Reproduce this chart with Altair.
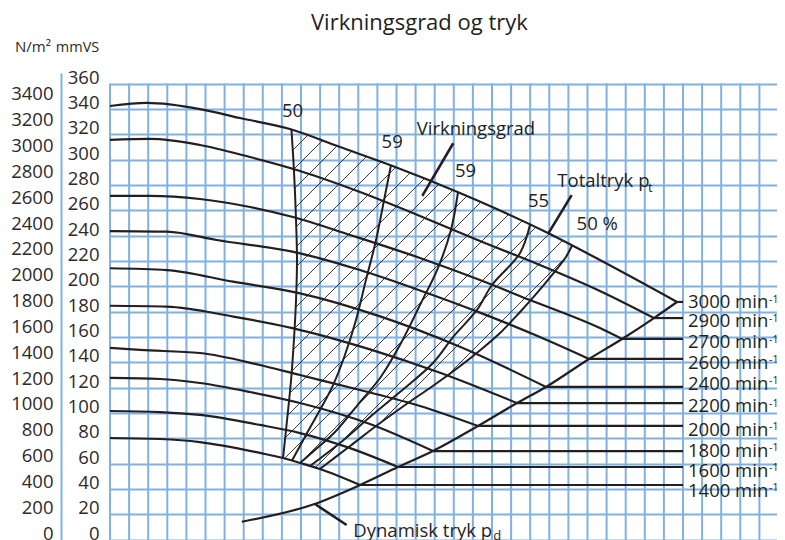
import altair as alt
import pandas as pd

# ---------------- values ----------------
# x = flow in grid-cell units from the left edge, y = pressure in mmVS
SPEEDS = [3000, 2900, 2700, 2600, 2400, 2200, 2000, 1800, 1600, 1400]

X_3000 = [0, 1.94, 4.71, 6.81, 9.42, 12.04, 14.66, 18.32, 22.93, 25.65, 29.69]
Y_3000 = [337.1, 339.5, 334.7, 327.6, 318.9, 304.7, 290.5, 268.4, 236.8, 215.5, 182.4]
X_2900 = [0, 2.09, 4.71, 7.33, 9.95, 13.09, 16.23, 19.37, 22.51, 25.65, 28.48]
Y_2900 = [310.3, 311.1, 306.3, 296.8, 285.8, 269.2, 250.3, 230.5, 211.6, 191.1, 169.7]
X_2700 = [0, 2.09, 4.71, 7.33, 9.58, 12.57, 16.23, 19.37, 21.99, 25.65, 26.81]
Y_2700 = [266.1, 266.1, 263.7, 257.4, 249.5, 235.3, 217.1, 199.7, 183.9, 161.8, 153.2]
X_2600 = [0, 2.97, 5.59, 9.95, 13.09, 16.23, 19.37, 22.51, 25.08]
Y_2600 = [238.4, 237.9, 231.3, 220.8, 207.6, 191.5, 174.0, 154.7, 137.4]
X_2400 = [0, 2.97, 6.44, 9.95, 14.14, 18.32, 22.83]
Y_2400 = [209.0, 207.6, 198.4, 189.2, 171.0, 147.0, 115.3]
X_2200 = [0, 2.97, 6.46, 9.60, 13.61, 17.28, 21.31]
Y_2200 = [179.4, 178.7, 170.8, 161.6, 145.0, 126.5, 102.6]
X_2000 = [0, 1.57, 4.71, 7.85, 9.95, 13.09, 16.23, 19.27]
Y_2000 = [146.1, 144.5, 142.1, 132.6, 124.7, 112.9, 100.3, 84.5]
X_1800 = [0, 2.62, 4.71, 7.33, 9.95, 13.61, 16.91]
Y_1800 = [122.4, 121.6, 118.4, 111.3, 102.6, 86.0, 64.7]
X_1600 = [0, 2.62, 4.71, 7.85, 9.95, 12.57, 15.08]
Y_1600 = [96.3, 95.5, 93.2, 85.3, 78.9, 67.0, 52.1]
X_1400 = [0, 2.62, 4.71, 7.85, 9.06, 9.95, 10.99, 13.09]
Y_1400 = [75.0, 74.2, 71.8, 63.2, 59.2, 55.3, 50.5, 37.9]

# dynamic pressure curve
X_PD = [6.90, 10.63, 13.09, 15.08, 16.91, 19.27, 21.31, 22.83, 25.08, 26.81, 28.48, 29.69]
Y_PD = [8.9, 22.5, 37.9, 52.1, 64.7, 84.5, 102.6, 115.3, 137.4, 153.2, 169.7, 182.4]

# iso-efficiency lines (top -> bottom)
E50L_X = [9.50, 9.63, 9.74, 9.79, 9.74, 9.63, 9.48, 9.27, 9.06]
E50L_Y = [318.5, 286.6, 247.1, 215.5, 183.9, 152.4, 120.8, 89.2, 59.2]
E59A_X = [14.71, 14.35, 13.93, 13.40, 12.88, 12.30, 11.68, 10.99, 10.26, 9.53]
E59A_Y = [290.2, 262.9, 231.3, 199.7, 168.2, 140.5, 116.8, 97.1, 77.4, 57.2]
E59B_X = [18.22, 17.85, 17.17, 16.28, 15.18, 14.14, 13.09, 11.78, 10.73, 9.95]
E59B_Y = [269.0, 239.2, 209.2, 181.6, 148.4, 122.4, 103.4, 79.7, 65.5, 55.3]
E55_X = [21.99, 21.47, 20.00, 19.21, 17.96, 16.91, 15.18, 13.61, 12.04, 10.47]
E55_Y = [243.3, 221.1, 195.8, 176.1, 154.7, 134.2, 111.3, 91.6, 71.1, 52.9]
E50R_X = [24.19, 23.87, 23.19, 22.36, 21.47, 20.42, 19.27, 18.06, 16.75, 15.45, 14.14, 12.57, 10.99]
E50R_Y = [227.0, 217.9, 204.5, 189.5, 174.5, 157.9, 142.9, 128.7, 114.5, 101.1, 86.8, 68.7, 50.5]

# speed labels on the right
LABEL_END_X = 30
LABEL_Y = [177.4, 162.4, 145.8, 129.5, 112.9, 95.3, 76.8, 60.2, 44.4, 28.7]

# annotations
NOTE_TEXT = ["50", "59", "59", "55", "50 %", "Virkningsgrad", "Totaltryk p", "Dynamisk tryk p"]
NOTE_X = [9.0, 14.22, 18.06, 21.88, 24.43, 16.06, 23.42, 12.74]
NOTE_Y = [328.7, 303.7, 280.8, 257.6, 239.2, 314.2, 273.4, -2.9]
SUB_TEXT = ["t", "d"]
SUB_X = [28.17, 20.07]
SUB_Y = [269.2, -5.5]
LEAD_X1 = [17.97, 24.17, 10.73]
LEAD_Y1 = [307.7, 266.8, 22.9]
LEAD_X2 = [16.35, 22.95, 12.39]
LEAD_Y2 = [266.1, 236.6, 6.3]
TITLE = "Virkningsgrad og tryk"
TITLE_X, TITLE_Y = 16.2, 397.1

MMVS_TICKS = list(range(0, 361, 20))
NM_TICKS = list(range(0, 3401, 200))
GRID_X = list(range(0, 35))

# ---------------- layout / style ----------------
FONT = "Open Sans"
INK = "#231f20"
LABEL_INK = "#2b2b2b"
BLUE = "#80b1e3"
W, H = 667, 475
X_MAX = W / 19.1
Y_MIN, Y_MAX = -11.84, 363.16
NM_PER_MMVS = 9.80665
GRID_SHIFT = 6.5          # the printed grid sits a little below the labelled values
PXU = W / X_MAX
PYU = H / (Y_MAX - Y_MIN)
GRID_TOP = MMVS_TICKS[-1] - GRID_SHIFT / PYU

xs = alt.Scale(domain=[0, X_MAX], nice=False, zero=False)
ys = alt.Scale(domain=[Y_MIN, Y_MAX], nice=False, zero=False)

y_axis = alt.Axis(
    values=MMVS_TICKS, grid=True, gridColor=BLUE, gridWidth=2, gridOpacity=1,
    tickOffset=GRID_SHIFT, labelOffset=-GRID_SHIFT, ticks=False, tickSize=0, domain=False,
    labelPadding=11, labelFont=FONT, labelFontSize=18.5, labelColor=LABEL_INK,
    labelAlign="right", labelBaseline="middle", labelOverlap=False, format="d",
    title="mmVS", titleAngle=0, titleX=-33, titleY=-21.5, titleAlign="center",
    titleBaseline="alphabetic", titleFont=FONT, titleFontSize=14.5, titleFontWeight="normal",
    titleColor=LABEL_INK,
)


def X(f):
    return alt.X(f, type="quantitative", scale=xs, axis=None)


def Y(f):
    return alt.Y(f, type="quantitative", scale=ys, axis=y_axis)


curve_x = [X_3000, X_2900, X_2700, X_2600, X_2400, X_2200, X_2000, X_1800, X_1600, X_1400]
curve_y = [Y_3000, Y_2900, Y_2700, Y_2600, Y_2400, Y_2200, Y_2000, Y_1800, Y_1600, Y_1400]

rows = []
for n, cx, cy in zip(SPEEDS, curve_x, curve_y):
    for i, (a, b) in enumerate(zip(cx, cy)):
        rows.append({"speed": n, "i": i, "x": a, "y": b})
curves_df = pd.DataFrame(rows)

ends_df = pd.DataFrame({
    "speed": SPEEDS,
    "x": [c[-1] for c in curve_x],
    "y": [c[-1] for c in curve_y],
    "x2": [LABEL_END_X] * len(SPEEDS),
    "ly": LABEL_Y,
    "label": [f"{n} min" for n in SPEEDS],
    "sup": ["-1"] * len(SPEEDS),
})

pd_df = pd.DataFrame({"x": X_PD, "y": Y_PD, "i": range(len(X_PD))})

eff_rows = []
for name, ex, ey in [("50L", E50L_X, E50L_Y), ("59A", E59A_X, E59A_Y), ("59B", E59B_X, E59B_Y),
                     ("55", E55_X, E55_Y), ("50R", E50R_X, E50R_Y)]:
    for i, (a, b) in enumerate(zip(ex, ey)):
        eff_rows.append({"line": name, "i": i, "x": a, "y": b})
eff_df = pd.DataFrame(eff_rows)

# ---- hatching of the region between the two 50 % lines (45 deg on screen)
poly = list(zip(E50L_X, E50L_Y))
poly += [(a, b) for a, b in zip(X_1400, Y_1400) if E50L_X[-1] < a < E50R_X[-1]]
poly += list(zip(E50R_X[::-1], E50R_Y[::-1]))
poly += [(a, b) for a, b in reversed(list(zip(X_3000, Y_3000))) if E50L_X[0] < a < E50R_X[0]]


def s_of(p):
    return p[0] * PXU - p[1] * PYU


svals = [s_of(p) for p in poly]
HATCH = 20.0
hatch_rows = []
c = (int(min(svals) // HATCH) + 1) * HATCH
while c < max(svals):
    pts = []
    for k in range(len(poly)):
        a, b = poly[k], poly[(k + 1) % len(poly)]
        fa, fb = s_of(a) - c, s_of(b) - c
        if (fa < 0) != (fb < 0):
            t = fa / (fa - fb)
            pts.append((a[0] + t * (b[0] - a[0]), a[1] + t * (b[1] - a[1])))
    pts.sort()
    for j in range(0, len(pts) - 1, 2):
        hatch_rows.append({"x": pts[j][0], "y": pts[j][1], "x2": pts[j + 1][0], "y2": pts[j + 1][1]})
    c += HATCH
hatch_df = pd.DataFrame(hatch_rows)

notes_df = pd.DataFrame({"t": NOTE_TEXT, "x": NOTE_X, "y": NOTE_Y})
subs_df = pd.DataFrame({"t": SUB_TEXT, "x": SUB_X, "y": SUB_Y})
lead_df = pd.DataFrame({"x": LEAD_X1, "y": LEAD_Y1, "x2": LEAD_X2, "y2": LEAD_Y2})
title_df = pd.DataFrame({"t": [TITLE], "x": [TITLE_X], "y": [TITLE_Y]})
gridv_df = pd.DataFrame({"x": GRID_X, "ytop": [GRID_TOP] * len(GRID_X),
                         "ybot": [Y_MIN] * len(GRID_X)})

gridv = alt.Chart(gridv_df).mark_rule(color=BLUE, strokeWidth=2).encode(
    x=X("x"), y=Y("ytop"), y2="ybot:Q")

hatch = alt.Chart(hatch_df).mark_rule(color=INK, strokeWidth=0.9).encode(
    x=X("x"), y=Y("y"), x2="x2:Q", y2="y2:Q")

curves = alt.Chart(curves_df).mark_line(color=INK, strokeWidth=2.2, interpolate="monotone").encode(
    x=X("x"), y=Y("y"), detail="speed:N", order="i:Q")

pdyn = alt.Chart(pd_df).mark_line(color=INK, strokeWidth=2.2, interpolate="monotone").encode(
    x=X("x"), y=Y("y"), order="i:Q")

eff = alt.Chart(eff_df).mark_line(color=INK, strokeWidth=2.0, interpolate="catmull-rom").encode(
    x=X("x"), y=Y("y"), detail="line:N", order="i:Q")

hlead = alt.Chart(ends_df).mark_rule(color=INK, strokeWidth=2.2).encode(
    x=X("x"), x2="x2:Q", y=Y("y"))

pointers = alt.Chart(lead_df).mark_rule(color=INK, strokeWidth=2.6).encode(
    x=X("x"), y=Y("y"), x2="x2:Q", y2="y2:Q")

labels = alt.Chart(ends_df).mark_text(font=FONT, fontSize=18.5, color=INK, align="left",
                                      baseline="alphabetic", dx=5).encode(
    x=X("x2"), y=Y("ly"), text="label:N")

sups = alt.Chart(ends_df).mark_text(font=FONT, fontSize=10.5, color=INK, align="left",
                                    baseline="alphabetic", dx=86, dy=-5.5).encode(
    x=X("x2"), y=Y("ly"), text="sup:N")

notes = alt.Chart(notes_df).mark_text(font=FONT, fontSize=18.5, color=INK, align="left",
                                      baseline="alphabetic").encode(
    x=X("x"), y=Y("y"), text="t:N")

subs = alt.Chart(subs_df).mark_text(font=FONT, fontSize=13, color=INK, align="left",
                                    baseline="alphabetic").encode(
    x=X("x"), y=Y("y"), text="t:N")

title = alt.Chart(title_df).mark_text(font=FONT, fontSize=22, color=INK, align="center",
                                      baseline="alphabetic").encode(
    x=X("x"), y=Y("y"), text="t:N")

main = alt.layer(gridv, hatch, curves, pdyn, eff, hlead, pointers, labels, sups, notes, subs, title)

nm = alt.Chart(pd.DataFrame({"p": [0]})).mark_point(opacity=0).encode(
    y=alt.Y("p:Q", scale=alt.Scale(domain=[Y_MIN * NM_PER_MMVS, Y_MAX * NM_PER_MMVS],
                                   nice=False, zero=False),
            axis=alt.Axis(orient="left", offset=49, values=NM_TICKS, grid=False, ticks=False,
                          tickSize=0, domain=True, domainColor=BLUE, domainWidth=2,
                          labelPadding=8, labelFont=FONT, labelFontSize=18.5, format="d",
                          labelColor=LABEL_INK, labelAlign="right", labelBaseline="middle",
                          labelOverlap=False, title="N/m²", titleAngle=0, titleX=-28.5,
                          titleY=-21.5, titleAlign="center", titleBaseline="alphabetic",
                          titleFont=FONT, titleFontSize=15, titleFontWeight="normal",
                          titleColor=LABEL_INK)))

chart = alt.layer(main, nm).resolve_scale(y="independent").properties(
    width=W, height=H,
    autosize=alt.AutoSizeParams(type="none"),
    padding={"left": 102, "top": 65, "right": 0, "bottom": 0},
    background="white",
).configure_view(stroke=None)

chart.save("out.html", embed_options={"renderer": "svg", "actions": False})
